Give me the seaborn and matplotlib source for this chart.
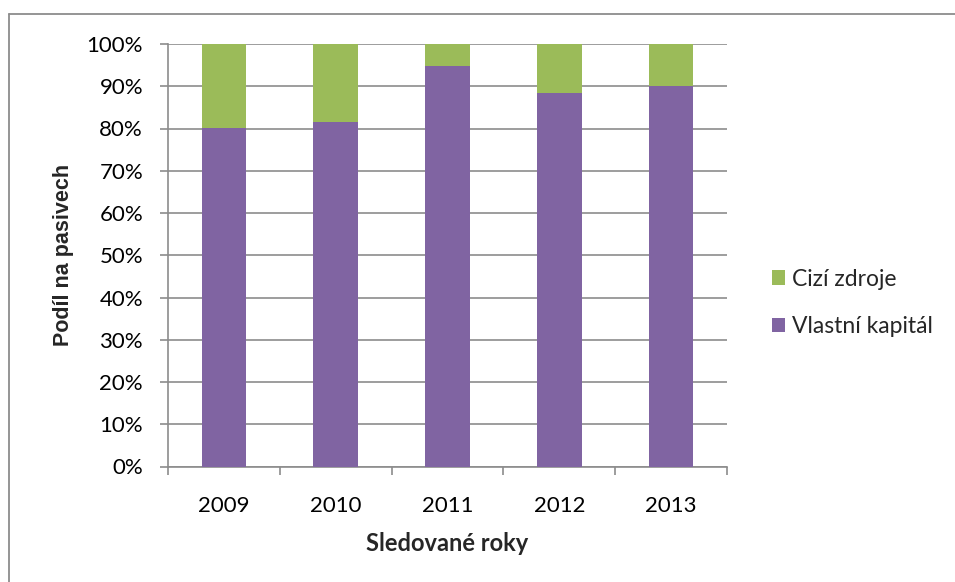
import matplotlib
matplotlib.use("Agg")
import matplotlib.pyplot as plt
import seaborn as sns
import pandas as pd
from matplotlib.lines import Line2D
from matplotlib.patches import Patch
from matplotlib.ticker import FuncFormatter, FixedLocator

years = ["2009", "2010", "2011", "2012", "2013"]
vlastni_kapital = [80.2, 81.6, 94.8, 88.5, 90.1]
cizi_zdroje = [19.8, 18.4, 5.2, 11.5, 9.9]

df = pd.DataFrame({"rok": years, "vlastni": vlastni_kapital, "cizi": cizi_zdroje})
df["celkem"] = df["vlastni"] + df["cizi"]

sns.set_theme(style="white")
plt.rcParams["font.family"] = ["Lato", "DejaVu Sans"]

purple = "#8064A2"
green = "#9BBB59"
grid_c = "#8C8C8C"

fig = plt.figure(figsize=(9.55, 5.82), dpi=100)
# outer chart border (top and left edges visible)
fig.add_artist(Line2D([9 / 955, 1.0], [1 - 14 / 582, 1 - 14 / 582], transform=fig.transFigure,
                      color=grid_c, linewidth=1.3))
fig.add_artist(Line2D([9 / 955, 9 / 955], [0, 1 - 14 / 582], transform=fig.transFigure,
                      color=grid_c, linewidth=1.3))

ax = fig.add_axes([168 / 955, (582 - 466.5) / 582, (727 - 168) / 955, (466.5 - 44) / 582])

sns.barplot(data=df, x="rok", y="celkem", color=green, width=0.4, ax=ax,
            saturation=1, zorder=3, linewidth=0)
sns.barplot(data=df, x="rok", y="vlastni", color=purple, width=0.4, ax=ax,
            saturation=1, zorder=4, linewidth=0)

ax.set_ylim(0, 100)
ax.set_xlim(-0.5, 4.5)
ax.set_yticks(range(0, 101, 10))
ax.yaxis.set_major_formatter(FuncFormatter(lambda v, p: f"{int(v)}%"))
ax.yaxis.grid(True, color=grid_c, linewidth=1.2, zorder=1)
ax.set_axisbelow(True)
for s in ["top", "right"]:
    ax.spines[s].set_visible(False)
for s in ["left", "bottom"]:
    ax.spines[s].set_color(grid_c)
    ax.spines[s].set_linewidth(1.2)

ax.tick_params(axis="y", which="major", left=True, length=6, width=1.2, color=grid_c,
               labelsize=16, pad=12, labelcolor="black")
ax.tick_params(axis="x", which="major", bottom=False, length=0, labelsize=16, pad=21,
               labelcolor="black")
ax.xaxis.set_minor_locator(FixedLocator([-0.5, 0.5, 1.5, 2.5, 3.5, 4.5]))
ax.tick_params(axis="x", which="minor", bottom=True, length=6, width=1.2, color=grid_c)

ax.set_xlabel("Sledované roky", fontsize=17, fontweight="bold", labelpad=12)
ax.set_ylabel("Podíl na pasivech", fontsize=15.5, fontweight="bold", labelpad=9,
              family=["Liberation Sans", "DejaVu Sans"])

handles = [Patch(facecolor=green, edgecolor="none", label="Cizí zdroje"),
           Patch(facecolor=purple, edgecolor="none", label="Vlastní kapitál")]
fig.legend(handles=handles, loc="center left", bbox_to_anchor=(751 / 955, 1 - 303 / 582),
           frameon=False, fontsize=16.5, handlelength=0.6, handleheight=0.6,
           handletextpad=0.3, labelspacing=1.15)

fig.savefig("out.png", dpi=100)
